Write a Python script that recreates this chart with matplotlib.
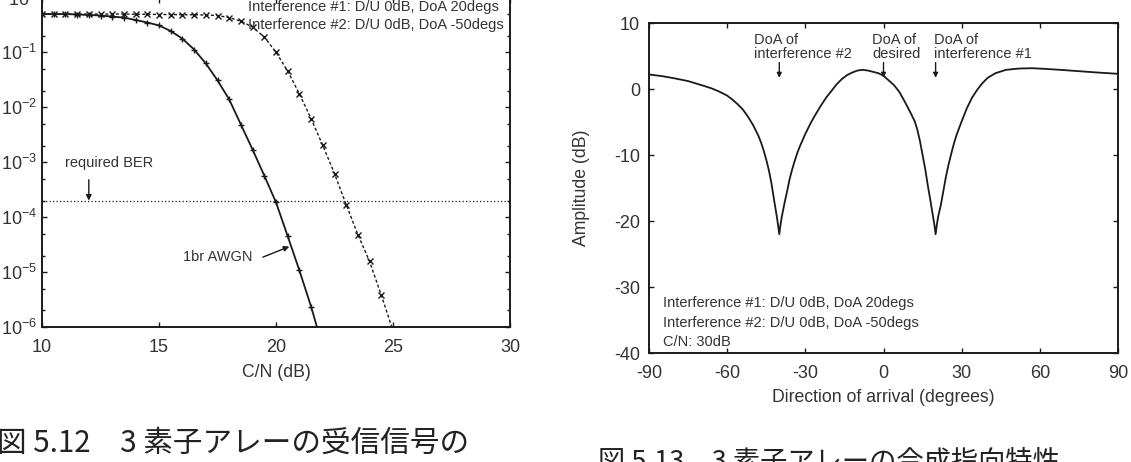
import numpy as np
import matplotlib
matplotlib.use('Agg')
import matplotlib.pyplot as plt
from matplotlib.ticker import LogLocator, FixedLocator, FuncFormatter, NullFormatter

# ---------------- data ----------------
# Fig 5.12 : BER vs C/N
cn_awgn = [10, 10.5, 11, 11.5, 12, 12.5, 13, 13.5, 14, 14.5, 15, 15.5, 16, 16.5,
           17, 17.5, 18, 18.5, 19, 19.5, 20, 20.5, 21, 21.5, 21.75]
ber_awgn = [0.5, 0.5, 0.5, 0.49, 0.48, 0.47, 0.45, 0.43, 0.39, 0.35, 0.31, 0.245,
            0.178, 0.113, 0.063, 0.031, 0.0139, 4.85e-3, 1.7e-3, 5.7e-4, 1.86e-4,
            4.5e-5, 1.07e-5, 2.35e-6, 1.0e-6]

cn_intf = [10, 10.5, 11, 11.5, 12, 12.5, 13, 13.5, 14, 14.5, 15, 15.5, 16, 16.5,
           17, 17.5, 18, 18.5, 19, 19.5, 20, 20.5, 21, 21.5, 22, 22.5, 23, 23.5,
           24, 24.5, 24.95]
ber_intf = [0.5, 0.5, 0.5, 0.5, 0.5, 0.5, 0.5, 0.5, 0.495, 0.495, 0.49, 0.49,
            0.485, 0.485, 0.48, 0.47, 0.43, 0.37, 0.29, 0.19, 0.101, 0.0456,
            0.0176, 6.2e-3, 2.03e-3, 6.2e-4, 1.69e-4, 4.8e-5, 1.56e-5, 3.8e-6, 1.0e-6]

required_ber = 2e-4
required_ber_cn = 12

cn_ticks = [10, 15, 20, 25, 30]

# Fig 5.13 : array pattern
doa_deg = [-90, -85, -80, -75, -70, -66, -63, -60, -58, -56, -54, -52, -50, -48,
           -47, -46, -45, -44, -43, -42, -41, -40.5, -40, -39.5, -39, -38, -37,
           -36, -35, -34, -33, -32, -30, -28, -26, -24, -22, -20, -18, -16, -14,
           -12, -10, -8, -6, -4, -2, 0, 2, 4, 6, 8, 10, 12, 13, 14, 15, 16, 17,
           18, 19, 19.5, 20, 20.5, 21, 22, 23, 24, 25, 26, 27, 28, 30, 32, 34,
           36, 38, 40, 43, 47, 52, 57, 62, 68, 75, 82, 90]
amp_db = [2.2, 1.95, 1.6, 1.2, 0.6, 0.1, -0.4, -1.0, -1.6, -2.3, -3.1, -4.2,
          -5.5, -7.1, -8.1, -9.3, -10.7, -12.3, -14.3, -16.8, -19.2, -20.5, -22.0,
          -20.5, -19.3, -17.3, -15.5, -13.6, -12.1, -10.8, -9.6, -8.6, -6.8, -5.2,
          -3.8, -2.5, -1.3, -0.3, 0.7, 1.5, 2.1, 2.5, 2.8, 2.9, 2.8, 2.6, 2.4,
          2.0, 1.3, 0.6, -0.4, -1.8, -3.3, -4.9, -6.2, -7.9, -10.0, -12.1, -14.6,
          -16.9, -19.3, -20.5, -22.0, -20.5, -19.3, -17.6, -15.4, -13.2, -11.4,
          -9.8, -8.3, -7.0, -4.9, -2.9, -1.3, -0.1, 0.9, 1.7, 2.4, 2.9, 3.1,
          3.15, 3.05, 2.9, 2.7, 2.5, 2.3]
doa_marks = [-40, 0, 20]   # interference #2, desired, interference #1
doa_ticks = [-90, -60, -30, 0, 30, 60, 90]
amp_ticks = [-40, -30, -20, -10, 0, 10]

# ---------------- style ----------------
plt.rcParams['font.family'] = ['Liberation Sans', 'DejaVu Sans']
plt.rcParams['mathtext.fontset'] = 'custom'
plt.rcParams['mathtext.rm'] = 'Liberation Sans'
plt.rcParams['mathtext.it'] = 'Liberation Sans:italic'
plt.rcParams['mathtext.bf'] = 'Liberation Sans:bold'
plt.rcParams['mathtext.default'] = 'regular'
plt.rcParams['axes.unicode_minus'] = False

TXT = '#333333'
LN = '#1a1a1a'
W, H = 1131, 462
TFS = 13      # tick labels
LFS = 12.7    # axis labels
AFS = 10.5    # annotations

fig = plt.figure(figsize=(W / 100, H / 100), dpi=100)


def rect(l, t, r, b):
    return [l / W, 1 - b / H, (r - l) / W, (b - t) / H]


def fx(px):
    return px / W


def fy(py):
    return 1 - py / H


ax1 = fig.add_axes(rect(42, -2.5, 510, 327))
ax2 = fig.add_axes(rect(649, 23, 1118, 353))

for ax in (ax1, ax2):
    for s in ax.spines.values():
        s.set_linewidth(1.4)
        s.set_color(LN)
    ax.tick_params(which='both', direction='in', top=True, right=True,
                   color=LN, labelcolor=TXT, labelsize=TFS, width=1.0)
    ax.tick_params(which='major', length=3.8)
    ax.tick_params(which='minor', length=2.2)

# ---------------- left: BER ----------------
ax1.set_yscale('log')
ax1.set_xlim(10, 30)
ax1.set_ylim(1e-6, 1)
ax1.xaxis.set_major_locator(FixedLocator(cn_ticks))
ax1.yaxis.set_major_locator(LogLocator(base=10, numticks=20))
ax1.yaxis.set_minor_locator(LogLocator(base=10, subs=(2.0, 5.0), numticks=20))
ax1.yaxis.set_minor_formatter(NullFormatter())
ax1.yaxis.set_major_formatter(
    FuncFormatter(lambda v, p: r'$10^{%d}$' % int(round(np.log10(v)))))
ax1.tick_params(axis='x', pad=8.5)
ax1.tick_params(axis='y', pad=3.5)

ax1.plot(cn_awgn, ber_awgn, color=LN, lw=1.3, marker='+', ms=4, mew=1.0,
         markevery=list(range(len(cn_awgn) - 1)))
ax1.plot(cn_intf, ber_intf, color=LN, lw=1.0, ls=(0, (2.2, 1.6)), marker='x',
         ms=4, mew=1.0, markevery=list(range(len(cn_intf) - 1)))
ax1.axhline(required_ber, color=LN, lw=0.9, ls=(0, (1, 1.8)))

ax1.set_xlabel('C/N (dB)', fontsize=LFS, color=TXT)
ax1.xaxis.set_label_coords(0.5, (327 - 373) / 329.5)
ax1.xaxis.label.set_verticalalignment('center')

fig.text(fx(248), fy(7), 'Interference #1: D/U 0dB, DoA 20degs', fontsize=AFS,
         color=TXT, va='center', ha='left')
fig.text(fx(248), fy(25), 'Interference #2: D/U 0dB, DoA -50degs', fontsize=AFS,
         color=TXT, va='center', ha='left')
fig.text(fx(65), fy(163), 'required BER', fontsize=AFS, color=TXT,
         va='center', ha='left')
ax1.annotate('', xy=(required_ber_cn, required_ber),
             xytext=(required_ber_cn, required_ber * 2.4),
             arrowprops=dict(arrowstyle='-|>', color=LN, lw=1.0,
                             mutation_scale=8, shrinkA=0, shrinkB=0))
fig.text(fx(183), fy(257), '1br AWGN', fontsize=AFS, color=TXT,
         va='center', ha='left')
ax1.annotate('', xy=(20.57, 2.92e-5), xytext=(19.44, 1.87e-5),
             arrowprops=dict(arrowstyle='-|>', color=LN, lw=1.0,
                             mutation_scale=8, shrinkA=0, shrinkB=0))

# ---------------- right: pattern ----------------
ax2.set_xlim(-90, 90)
ax2.set_ylim(-40, 10)
ax2.xaxis.set_major_locator(FixedLocator(doa_ticks))
ax2.yaxis.set_major_locator(FixedLocator(amp_ticks))
ax2.tick_params(axis='x', pad=8.5)
ax2.tick_params(axis='y', pad=6.5)
ax2.plot(doa_deg, amp_db, color=LN, lw=1.3)

ax2.set_xlabel('Direction of arrival (degrees)', fontsize=LFS, color=TXT)
ax2.xaxis.set_label_coords(0.5, (353 - 397) / 330)
ax2.xaxis.label.set_verticalalignment('center')
ax2.set_ylabel('Amplitude (dB)', fontsize=LFS, color=TXT)
ax2.yaxis.set_label_coords((590 - 649) / 469, 0.5)
ax2.yaxis.label.set_horizontalalignment('center')

doa_text = [('DoA of', 'interference #2', 754), ('DoA of', 'desired', 872),
            ('DoA of', 'interference #1', 934)]
for (l1, l2, px), mk in zip(doa_text, doa_marks):
    fig.text(fx(px), fy(40), l1, fontsize=AFS, color=TXT, va='center', ha='left')
    fig.text(fx(px), fy(53.5), l2, fontsize=AFS, color=TXT, va='center', ha='left')
    ax2.annotate('', xy=(mk, 1.7), xytext=(mk, 4.0),
                 arrowprops=dict(arrowstyle='-|>', color=LN, lw=1.0,
                                 mutation_scale=7, shrinkA=0, shrinkB=0))

for py, s in [(303, 'Interference #1: D/U 0dB, DoA 20degs'),
              (322.5, 'Interference #2: D/U 0dB, DoA -50degs'),
              (342, 'C/N: 30dB')]:
    fig.text(fx(663), fy(py), s, fontsize=AFS, color=TXT, va='center', ha='left')

# ---------------- captions ----------------
CJK = ['Noto Sans CJK JP', 'DejaVu Sans']
fig.text(fx(-3), fy(443), '図 5.12　3 素子アレーの受信信号の', fontsize=21.3,
         family=CJK, color='#222222', va='center', ha='left')
fig.text(fx(598), fy(449), '図 5.13　3 素子アレーの合成指向特性', fontsize=19.6,
         family=CJK, color='#222222', va='top', ha='left')

fig.savefig('out.png', dpi=100)
